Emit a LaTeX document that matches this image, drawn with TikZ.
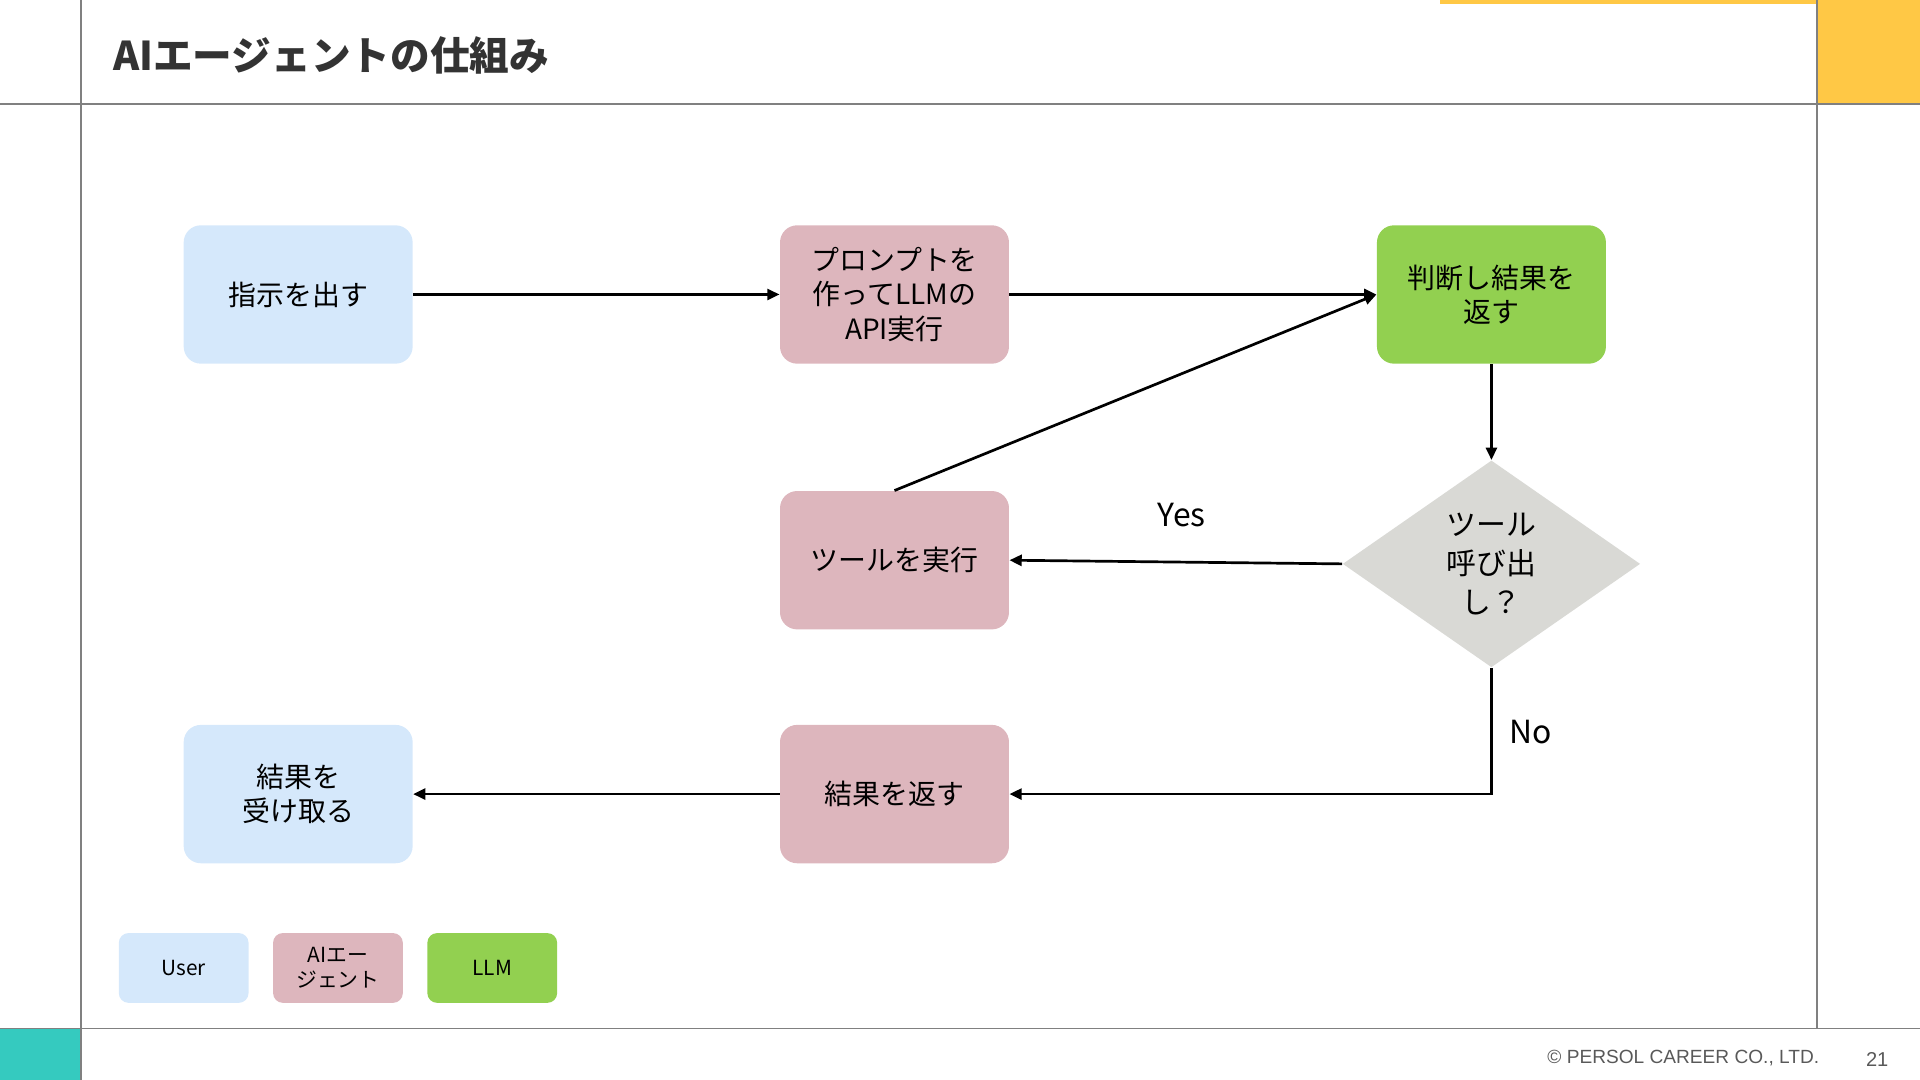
\documentclass[tikz,border=0pt]{standalone}
\usepackage{fontspec}
\setmainfont{Noto Sans CJK JP}
\newfontfamily\footfont{Liberation Sans}
\usetikzlibrary{shapes.geometric,arrows.meta}
\definecolor{userc}{HTML}{D5E8FB}
\definecolor{agentc}{HTML}{DDB6BD}
\definecolor{llmc}{HTML}{92D050}
\definecolor{decc}{HTML}{D9D9D5}
\definecolor{framec}{HTML}{808080}
\definecolor{orangec}{HTML}{FFC845}
\definecolor{tealc}{HTML}{35CABF}
\definecolor{titlec}{HTML}{333333}
\definecolor{footc}{HTML}{595959}
\tikzset{
  box/.style={rectangle, rounded corners=7pt, minimum width=93.5pt, minimum height=56.5pt, inner sep=0pt, align=center, font=\fontsize{11.4}{14}\selectfont, text=black},
  legbox/.style={rectangle, rounded corners=4pt, minimum width=53pt, minimum height=28.5pt, inner sep=0pt, align=center, font=\fontsize{8.5}{10}\selectfont, text=black},
  decision/.style={diamond, fill=decc, minimum width=121.5pt, minimum height=84.5pt, inner sep=0pt, align=center, font=\fontsize{12.2}{16}\selectfont},
  conn/.style={line width=1.1pt, draw=black, -{Triangle[length=5pt,width=4.5pt]}},
  frame/.style={draw=framec, line width=0.6pt},
  lbl/.style={font=\fontsize{13}{15}\selectfont, text=black, inner sep=0pt}
}
\begin{document}
\begin{tikzpicture}[x=0.5pt,y=-0.5pt]
\useasboundingbox (0,0) rectangle (1568,882);
% frame
\fill[orangec] (1176,0) rectangle (1568,3);
\fill[orangec] (1484,0) rectangle (1568,85);
\fill[tealc] (0,840) rectangle (66,882);
\draw[frame] (0,85) -- (1568,85);
\draw[frame] (0,840) -- (1568,840);
\draw[frame] (66,0) -- (66,882);
\draw[frame] (1484,0) -- (1484,840);
\node[anchor=west, inner sep=0pt, text=titlec, font=\fontsize{16.2}{19}\selectfont\bfseries] (title) at (92,45) {AIエージェントの仕組み};
\node[anchor=east, inner sep=0pt, text=footc, font=\footfont\fontsize{7.8}{9}\selectfont] (copy) at (1486,864) {© PERSOL CAREER CO., LTD.};
\node[anchor=center, inner sep=0pt, text=footc, font=\footfont\fontsize{8.2}{9}\selectfont] (pg) at (1533,865) {21};
% nodes
\node[box, fill=userc] (cmd) at (243.5,240.5) {指示を出す};
\node[box, fill=agentc] (prm) at (730.5,240.5) {プロンプトを\\作ってLLMの\\API実行};
\node[box, fill=llmc] (jdg) at (1218,240.5) {判断し結果を\\返す};
\node[decision] (dec) at (1218,460.5) {ツール\\呼び出\\し？};
\node[box, fill=agentc] (tool) at (730.5,457.5) {ツールを実行};
\node[box, fill=agentc] (ret) at (730.5,648.5) {結果を返す};
\node[box, fill=userc] (recv) at (243.5,648.5) {結果を\\受け取る};
% legend
\node[legbox, fill=userc] (lu) at (150,790.5) {User};
\node[legbox, fill=agentc] (la) at (276,790.5) {AIエー\\ジェント};
\node[legbox, fill=llmc] (ll) at (402,790.5) {LLM};
% connectors
\draw[conn] (cmd.east) -- (prm.west);
\draw[conn] (prm.east) -- (jdg.west);
\draw[conn] (tool.north) -- (jdg.west);
\draw[conn] (jdg.south) -- (dec.north);
\draw[conn] (dec.west) -- (tool.east);
\draw[conn] (dec.south) |- (ret.east);
\draw[conn] (ret.west) -- (recv.east);
\node[lbl] (yes) at (965,421) {Yes};
\node[lbl] (no) at (1250,598) {No};
\end{tikzpicture}
\end{document}
